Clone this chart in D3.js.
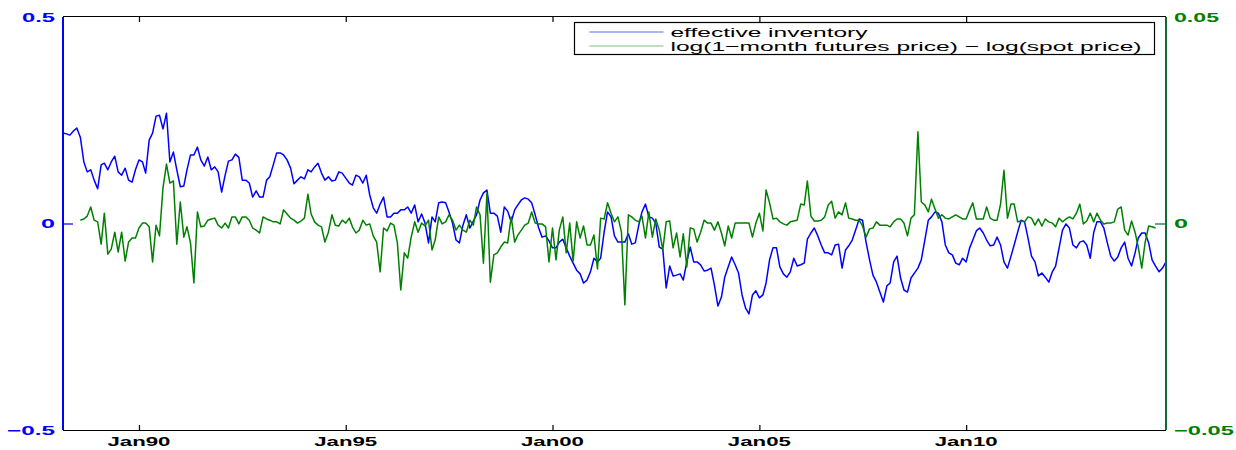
<!DOCTYPE html>
<html>
<head>
<meta charset="utf-8">
<script src="https://cdn.jsdelivr.net/npm/d3@7"></script>
<style>
  body { margin: 0; background: #fff; }
  text { font-family: "Liberation Sans", Arial, Helvetica, sans-serif; }
</style>
</head>
<body>
<svg id="chart" width="1236" height="450"></svg>
<script>
// monthly series, first value of each array sits at its start month
var inventoryStart = new Date(1988, 2, 1);
var basisStart = new Date(1988, 7, 1);

var inventory = [
  0.219,0.217,0.214,0.224,0.231,0.209,0.149,0.125,0.130,0.105,
  0.084,0.142,0.146,0.130,0.149,0.163,0.125,0.117,0.134,0.105,
  0.100,0.130,0.154,0.149,0.122,0.202,0.219,0.260,0.262,0.229,
  0.267,0.149,0.173,0.130,0.089,0.091,0.130,0.166,0.166,0.185,
  0.154,0.139,0.161,0.130,0.137,0.125,0.076,0.117,0.151,0.154,
  0.168,0.160,0.105,0.105,0.098,0.064,0.079,0.064,0.064,0.105,
  0.113,0.142,0.171,0.171,0.166,0.154,0.134,0.096,0.105,0.113,
  0.108,0.130,0.125,0.137,0.146,0.122,0.105,0.113,0.103,0.105,
  0.125,0.122,0.110,0.098,0.093,0.117,0.113,0.098,0.117,0.069,
  0.038,0.025,0.047,0.064,0.016,0.016,0.025,0.025,0.033,0.033,
  0.040,0.025,0.045,0.004,0.023,0.001,-0.047,0.016,0.004,0.050,
  0.052,0.050,0.028,0.001,-0.040,-0.047,-0.004,0.021,-0.011,0.006,
  0.021,0.057,0.074,0.081,0.025,0.025,0.018,-0.021,0.040,0.030,
  0.004,0.033,0.045,0.057,0.062,0.059,0.050,0.021,-0.011,-0.033,
  -0.030,-0.042,-0.059,-0.059,-0.045,-0.038,-0.059,-0.079,-0.096,-0.113,
  -0.122,-0.144,-0.137,-0.117,-0.084,-0.093,-0.084,-0.021,0.028,0.016,
  -0.030,-0.045,-0.045,-0.045,-0.025,-0.050,-0.047,-0.004,0.028,0.047,
  0.016,0.013,0.001,-0.057,-0.062,-0.156,-0.103,-0.127,-0.125,-0.122,
  -0.137,-0.093,-0.057,-0.093,-0.093,-0.100,-0.115,-0.113,-0.108,-0.149,
  -0.200,-0.178,-0.130,-0.105,-0.081,-0.100,-0.120,-0.173,-0.205,-0.219,
  -0.173,-0.163,-0.180,-0.173,-0.144,-0.088,-0.059,-0.059,-0.105,-0.122,
  -0.130,-0.117,-0.084,-0.103,-0.100,-0.096,-0.038,-0.023,-0.011,-0.030,
  -0.052,-0.071,-0.071,-0.076,-0.052,-0.050,-0.108,-0.064,-0.054,-0.040,
  -0.016,0.011,0.008,-0.045,-0.088,-0.125,-0.142,-0.166,-0.190,-0.151,
  -0.144,-0.093,-0.079,-0.132,-0.161,-0.166,-0.132,-0.120,-0.108,-0.088,
  -0.040,0.008,0.016,0.028,0.025,0.004,-0.052,-0.071,-0.076,-0.096,
  -0.100,-0.084,-0.093,-0.059,-0.040,-0.018,-0.011,-0.023,-0.040,-0.054,
  -0.052,-0.033,-0.052,-0.093,-0.108,-0.079,-0.052,-0.021,0.008,0.004,
  -0.035,-0.079,-0.093,-0.127,-0.120,-0.130,-0.142,-0.117,-0.103,-0.059,
  -0.016,-0.001,-0.011,-0.052,-0.059,-0.045,-0.042,-0.052,-0.084,-0.021,
  0.004,0.004,-0.011,-0.047,-0.079,-0.091,-0.081,-0.059,-0.045,-0.084,
  -0.103,-0.071,-0.035,-0.023,-0.023,-0.047,-0.088,-0.103,-0.117,-0.108,
  -0.093
];

var basis = [
  0.0008,0.0011,0.0018,0.0040,0.0008,
  0.0004,-0.0050,0.0025,-0.0074,-0.0062,-0.0021,-0.0069,-0.0021,-0.0091,-0.0045,
  -0.0035,-0.0035,-0.0011,0.0001,0.0001,-0.0008,-0.0093,-0.0004,-0.0030,0.0086,
  0.0144,0.0098,0.0103,-0.0050,0.0052,-0.0033,-0.0008,-0.0047,-0.0144,0.0028,
  -0.0008,-0.0006,0.0008,0.0011,0.0013,-0.0004,-0.0011,0.0001,-0.0011,0.0016,
  0.0016,-0.0001,0.0016,0.0016,0.0008,-0.0011,-0.0016,-0.0023,0.0016,0.0011,
  0.0008,0.0004,0.0004,-0.0001,0.0033,0.0023,0.0013,0.0008,0.0001,0.0006,
  0.0013,0.0071,0.0023,0.0004,-0.0004,-0.0008,-0.0045,-0.0021,0.0021,-0.0004,
  -0.0006,0.0008,0.0001,0.0013,-0.0008,-0.0023,-0.0016,0.0008,-0.0004,-0.0001,
  -0.0030,-0.0045,-0.0117,-0.0011,-0.0018,0.0001,-0.0004,-0.0047,-0.0161,-0.0071,
  -0.0084,-0.0033,0.0004,-0.0021,0.0001,-0.0006,0.0008,-0.0064,-0.0040,0.0016,
  -0.0001,0.0004,0.0021,0.0008,-0.0016,-0.0004,-0.0016,-0.0021,0.0008,-0.0004,
  0.0040,0.0021,-0.0096,0.0074,-0.0142,-0.0076,-0.0071,-0.0057,-0.0045,-0.0047,
  0.0016,-0.0045,-0.0028,-0.0016,-0.0004,0.0001,0.0028,0.0001,-0.0001,-0.0001,
  -0.0008,-0.0093,-0.0011,-0.0088,-0.0016,0.0016,-0.0071,0.0001,-0.0091,0.0004,
  -0.0035,-0.0006,-0.0052,-0.0052,-0.0028,-0.0110,0.0013,0.0011,0.0050,0.0025,
  0.0004,0.0016,-0.0021,-0.0197,0.0021,0.0016,0.0008,0.0004,0.0018,-0.0035,
  0.0028,-0.0033,0.0011,-0.0016,-0.0064,0.0004,0.0006,-0.0059,-0.0023,-0.0081,
  -0.0025,-0.0105,-0.0011,-0.0013,-0.0045,-0.0021,0.0008,0.0001,0.0001,-0.0016,
  0.0004,-0.0023,-0.0054,-0.0006,-0.0035,0.0001,0.0001,0.0001,0.0001,0.0001,
  -0.0033,0.0001,0.0025,-0.0018,0.0081,0.0050,0.0011,0.0013,0.0004,-0.0001,
  -0.0004,0.0004,0.0006,0.0008,0.0047,0.0045,0.0103,0.0018,0.0006,0.0006,
  0.0008,0.0016,0.0045,0.0054,0.0013,0.0028,0.0021,0.0050,0.0013,0.0011,
  0.0008,0.0008,-0.0006,-0.0033,-0.0013,-0.0011,0.0004,-0.0004,-0.0004,-0.0004,
  -0.0008,0.0004,0.0011,0.0011,0.0001,-0.0030,0.0013,0.0021,0.0222,0.0052,
  0.0045,0.0028,0.0059,0.0035,0.0013,0.0021,0.0013,0.0011,0.0016,0.0021,
  0.0016,0.0011,0.0011,0.0033,0.0050,0.0011,0.0011,0.0011,0.0040,0.0013,
  0.0008,0.0008,0.0047,0.0129,0.0013,0.0047,0.0047,0.0004,0.0006,0.0004,
  0.0016,0.0013,-0.0004,0.0011,-0.0006,0.0011,0.0004,0.0001,-0.0008,0.0013,
  0.0004,0.0011,0.0016,0.0011,0.0025,0.0047,-0.0001,0.0006,0.0025,0.0004,
  0.0025,0.0008,-0.0001,0.0001,0.0001,0.0004,0.0035,0.0040,-0.0016,-0.0028,
  0.0006,-0.0021,-0.0057,-0.0108,-0.0045,-0.0006,-0.0008,-0.0011
];

var xDomain = [new Date(1988, 2, 1), new Date(2014, 10, 1)];
var xTickDates = [new Date(1990, 0, 1), new Date(1995, 0, 1), new Date(2000, 0, 1), new Date(2005, 0, 1), new Date(2010, 0, 1)];
var xTickLabels = ["Jan90", "Jan95", "Jan00", "Jan05", "Jan10"];
var leftTicks = [-0.5, 0, 0.5];
var leftTickLabels = ["\u22120.5", "0", "0.5"];
var rightTicks = [-0.05, 0, 0.05];
var rightTickLabels = ["\u22120.05", "0", "0.05"];
var seriesNames = ["effective inventory", "log(1\u2212month futures price) \u2212 log(spot price)"];

// the source figure was stretched sideways, so label widths are forced
var labelWidth = {"Jan": 63, "\u22120.5": 48, "0.5": 33, "0": 14, "\u22120.05": 60, "0.05": 45};
var legendWidth = [197, 471];

var svg = d3.select("#chart"),
    margin = {top: 17, right: 70, bottom: 20, left: 63},
    width = +svg.attr("width") - margin.left - margin.right,
    height = +svg.attr("height") - margin.top - margin.bottom,
    g = svg.append("g").attr("transform", "translate(" + margin.left + "," + margin.top + ")");

var blue = "#0000ff", green = "#008000", rightAxisColor = "#0e6a36";

var x = d3.scaleTime().domain(xDomain).range([0, width]);
var yLeft = d3.scaleLinear().domain([-0.5, 0.5]).range([height, 0]);
var yRight = d3.scaleLinear().domain([-0.05, 0.05]).range([height, 0]);

g.append("clipPath").attr("id", "plotclip")
  .append("rect").attr("width", width).attr("height", height);

var lineLeft = d3.line()
    .x(function(d, i) { return x(d3.timeMonth.offset(inventoryStart, i)); })
    .y(function(d) { return yLeft(d); });
var lineRight = d3.line()
    .x(function(d, i) { return x(d3.timeMonth.offset(basisStart, i)); })
    .y(function(d) { return yRight(d); });

var plot = g.append("g").attr("clip-path", "url(#plotclip)");
plot.append("path").datum(inventory)
    .attr("fill", "none").attr("stroke", blue).attr("stroke-width", 1.5)
    .attr("stroke-linejoin", "round").attr("d", lineLeft);
plot.append("path").datum(basis)
    .attr("fill", "none").attr("stroke", green).attr("stroke-width", 1.5)
    .attr("stroke-linejoin", "round").attr("d", lineRight);

// bottom and top x axes, ticks point inward
var xAxisBottom = d3.axisBottom(x).tickValues(xTickDates).tickSize(-5).tickFormat("");
var xAxisTop = d3.axisTop(x).tickValues(xTickDates).tickSize(-5).tickFormat("");
g.append("g").attr("class", "axis").attr("transform", "translate(0," + height + ")").call(xAxisBottom);
g.append("g").attr("class", "axis").call(xAxisTop);
g.selectAll(".axis path, .axis line").attr("stroke", "#000").attr("stroke-width", 1.2);
g.selectAll(".axis .domain").attr("d", function() {
  return d3.select(this.parentNode).attr("transform") ? "M0,0.5H" + width : "M0,-0.5H" + width;
});

g.selectAll(".xlabel").data(xTickDates).enter().append("text")
    .attr("class", "xlabel")
    .attr("x", function(d) { return x(d); })
    .attr("y", height + 16)
    .attr("text-anchor", "middle")
    .attr("font-size", 13)
    .attr("font-weight", "bold")
    .attr("fill", "#000")
    .attr("textLength", labelWidth["Jan"])
    .attr("lengthAdjust", "spacingAndGlyphs")
    .text(function(d, i) { return xTickLabels[i]; });

// left axis
var yAxisLeft = d3.axisLeft(yLeft).tickValues([0]).tickSize(-10).tickFormat("");
var gl = g.append("g").call(yAxisLeft);
gl.select(".domain").attr("d", "M0,0V" + height).attr("stroke", blue).attr("stroke-width", 2);
gl.selectAll("line").attr("stroke", blue).attr("stroke-width", 1.2);
g.selectAll(".ylabel").data(leftTicks).enter().append("text")
    .attr("class", "ylabel")
    .attr("x", -8)
    .attr("y", function(d) { return yLeft(d) + 4.5; })
    .attr("text-anchor", "end")
    .attr("font-size", 13)
    .attr("font-weight", "bold")
    .attr("fill", blue)
    .attr("textLength", function(d, i) { return labelWidth[leftTickLabels[i]]; })
    .attr("lengthAdjust", "spacingAndGlyphs")
    .text(function(d, i) { return leftTickLabels[i]; });

// right axis
var yAxisRight = d3.axisRight(yRight).tickValues([0]).tickSize(-11).tickFormat("");
var gr = g.append("g").attr("transform", "translate(" + width + ",0)").call(yAxisRight);
gr.select(".domain").attr("d", "M0,0V" + height).attr("stroke", rightAxisColor).attr("stroke-width", 2);
gr.selectAll("line").attr("stroke", rightAxisColor).attr("stroke-width", 1.2);
g.selectAll(".rlabel").data(rightTicks).enter().append("text")
    .attr("class", "rlabel")
    .attr("x", width + 8)
    .attr("y", function(d) { return yRight(d) + 4.5; })
    .attr("text-anchor", "start")
    .attr("font-size", 13)
    .attr("font-weight", "bold")
    .attr("fill", green)
    .attr("textLength", function(d, i) { return labelWidth[rightTickLabels[i]]; })
    .attr("lengthAdjust", "spacingAndGlyphs")
    .text(function(d, i) { return rightTickLabels[i]; });

// legend
var legend = svg.append("g").attr("transform", "translate(574.5,22.5)");
legend.append("rect")
    .attr("width", 580).attr("height", 32)
    .attr("fill", "#fff").attr("stroke", "#000").attr("stroke-width", 1.2);
var legendColors = ["#5b6cf2", "#7cc27c"];
var item = legend.selectAll(".item").data(seriesNames).enter().append("g")
    .attr("class", "item")
    .attr("transform", function(d, i) { return "translate(0," + (9.5 + i * 14) + ")"; });
item.append("line")
    .attr("x1", 15).attr("x2", 89)
    .attr("stroke", function(d, i) { return legendColors[i]; })
    .attr("stroke-width", 1.2);
item.append("text")
    .attr("x", 96).attr("y", 4.5)
    .attr("font-size", 13)
    .attr("fill", "#000")
    .attr("textLength", function(d, i) { return legendWidth[i]; })
    .attr("lengthAdjust", "spacingAndGlyphs")
    .text(function(d) { return d; });
</script>
</body>
</html>
